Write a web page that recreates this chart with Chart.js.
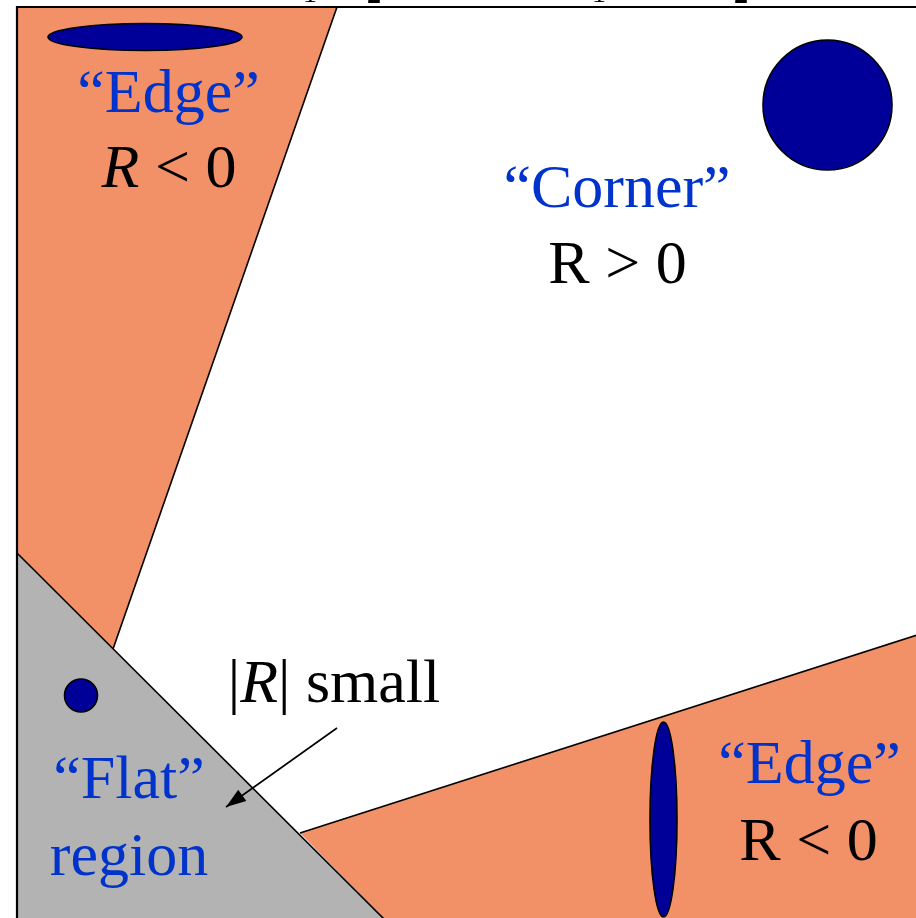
<!DOCTYPE html>
<html>
<head>
<meta charset="utf-8">
<script src="https://cdn.jsdelivr.net/npm/chart.js@4"></script>
<style>
html,body{margin:0;padding:0;background:#fff;}
#wrap{width:916px;height:918px;position:relative;}
</style>
</head>
<body>
<div id="wrap"><canvas id="c"></canvas></div>
<script>
// Region polygons (in diagram coordinates)
const edgeTopPoly = [{x:17,y:7},{x:337,y:7},{x:113,y:649},{x:17,y:553}];
const flatPoly = [{x:17,y:553},{x:386,y:921},{x:17,y:921}];
const edgeBottomPoly = [{x:300,y:833},{x:917,y:635},{x:917,y:921},{x:386,y:921}];

// Boundary lines
const lineEdgeTop = [{x:337,y:7},{x:113,y:649}];
const lineFlat = [{x:17,y:553},{x:386,y:921}];
const lineEdgeBottom = [{x:300,y:833},{x:917,y:635}];
const frameLine = [{x:917,y:7},{x:17,y:7},{x:17,y:921}];

// Ellipses: centre and radii
const ellipses = [
  {cx:145, cy:37, rx:97, ry:13.5},
  {cx:827.5, cy:105, rx:64.5, ry:65},
  {cx:81, cy:695.5, rx:16.5, ry:16.5},
  {cx:663.5, cy:819.5, rx:13.5, ry:97.5}
];

// Arrow from label to flat region
const arrowLine = [{x:337,y:728},{x:226,y:807}];

// Labels: runs of text [text, italic], centre x, baseline y, colour
const labels = [
  {runs:[["\u201CEdge\u201D",false]], x:168.5, y:112, c:"#0033CC"},
  {runs:[["R",true],[" < 0",false]], x:169, y:187, c:"#000"},
  {runs:[["\u201CCorner\u201D",false]], x:617, y:207, c:"#0033CC"},
  {runs:[["R > 0",false]], x:617.5, y:283, c:"#000"},
  {runs:[["|",false],["R",true],["| small",false]], x:334, y:702, c:"#000"},
  {runs:[["\u201CFlat\u201D",false]], x:129, y:798, c:"#0033CC"},
  {runs:[["region",false]], x:129, y:875, c:"#0033CC"},
  {runs:[["\u201CEdge\u201D",false]], x:809.5, y:783, c:"#0033CC"},
  {runs:[["R < 0",false]], x:808.5, y:860, c:"#000"}
];
// Clipped title remnants above the frame (subscripts of lambdas)
const topTexts = [
  {t:"1", x:310, y:2, b:false},
  {t:"2", x:374, y:3, b:true},
  {t:"1", x:599, y:2, b:false},
  {t:"2", x:741, y:3, b:true}
];

const ORANGE = "#F29068";
const GREY = "#B3B3B3";
const DARKBLUE = "#000099";

function lineDs(data, w){
  return {type:'line', data:data, showLine:true, borderColor:'#000', borderWidth:w,
          pointRadius:0, fill:false, tension:0};
}

const shapesPlugin = {
  id:'shapes',
  beforeDatasetsDraw(chart){
    const ctx = chart.ctx, xs = chart.scales.x, ys = chart.scales.y;
    const poly = (pts, col) => {
      ctx.beginPath();
      pts.forEach((p,i)=>{
        const px = xs.getPixelForValue(p.x), py = ys.getPixelForValue(p.y);
        if(i===0) ctx.moveTo(px,py); else ctx.lineTo(px,py);
      });
      ctx.closePath();
      ctx.fillStyle = col; ctx.fill();
    };
    ctx.save();
    poly(edgeTopPoly, ORANGE);
    poly(edgeBottomPoly, ORANGE);
    poly(flatPoly, GREY);
    ctx.restore();
  },
  afterDatasetsDraw(chart){
    const ctx = chart.ctx, xs = chart.scales.x, ys = chart.scales.y;
    ctx.save();
    // ellipses
    ellipses.forEach(e=>{
      const cx = xs.getPixelForValue(e.cx), cy = ys.getPixelForValue(e.cy);
      const rx = Math.abs(xs.getPixelForValue(e.cx+e.rx)-cx);
      const ry = Math.abs(ys.getPixelForValue(e.cy+e.ry)-cy);
      ctx.beginPath();
      ctx.ellipse(cx,cy,rx,ry,0,0,Math.PI*2);
      ctx.fillStyle = DARKBLUE; ctx.fill();
      ctx.lineWidth = 1.6; ctx.strokeStyle = '#000'; ctx.stroke();
    });
    // arrow head
    const x0 = xs.getPixelForValue(arrowLine[0].x), y0 = ys.getPixelForValue(arrowLine[0].y);
    const x1 = xs.getPixelForValue(arrowLine[1].x), y1 = ys.getPixelForValue(arrowLine[1].y);
    const ang = Math.atan2(y1-y0, x1-x0);
    const L = 20, W = 7;
    const bx = x1 - L*Math.cos(ang), by = y1 - L*Math.sin(ang);
    ctx.beginPath();
    ctx.moveTo(x1,y1);
    ctx.lineTo(bx + W*Math.sin(ang), by - W*Math.cos(ang));
    ctx.lineTo(bx - W*Math.sin(ang), by + W*Math.cos(ang));
    ctx.closePath();
    ctx.fillStyle = '#000'; ctx.fill();
    // labels
    const size = 62;
    const fnt = it => (it ? 'italic ' : '') + size + 'px "Liberation Serif", "Times New Roman", serif';
    ctx.textBaseline = 'alphabetic';
    ctx.textAlign = 'left';
    labels.forEach(l=>{
      let total = 0;
      l.runs.forEach(r=>{ ctx.font = fnt(r[1]); total += ctx.measureText(r[0]).width; });
      let x = xs.getPixelForValue(l.x) - total/2;
      const y = ys.getPixelForValue(l.y);
      ctx.fillStyle = l.c;
      l.runs.forEach(r=>{ ctx.font = fnt(r[1]); ctx.fillText(r[0], x, y); x += ctx.measureText(r[0]).width; });
    });
    // top clipped text
    ctx.textAlign = 'center';
    ctx.fillStyle = '#000';
    topTexts.forEach(t=>{
      ctx.font = (t.b ? 'bold ' : '') + '28px "Liberation Serif", serif';
      ctx.fillText(t.t, xs.getPixelForValue(t.x), ys.getPixelForValue(t.y));
    });
    ctx.restore();
  }
};

new Chart(document.getElementById('c'), {
  type:'scatter',
  data:{
    datasets:[
      lineDs(lineEdgeTop,1.6),
      lineDs(lineFlat,1.6),
      lineDs(lineEdgeBottom,1.6),
      lineDs(arrowLine,1.6),
      lineDs(frameLine,2.2)
    ]
  },
  options:{
    responsive:true, maintainAspectRatio:false, animation:false,
    layout:{padding:0},
    plugins:{legend:{display:false}, tooltip:{enabled:false}, title:{display:false}},
    scales:{
      x:{type:'linear', min:0, max:916, display:false},
      y:{type:'linear', min:0, max:918, reverse:true, display:false}
    },
    elements:{line:{borderCapStyle:'butt'}}
  },
  plugins:[shapesPlugin]
});
</script>
</body>
</html>
